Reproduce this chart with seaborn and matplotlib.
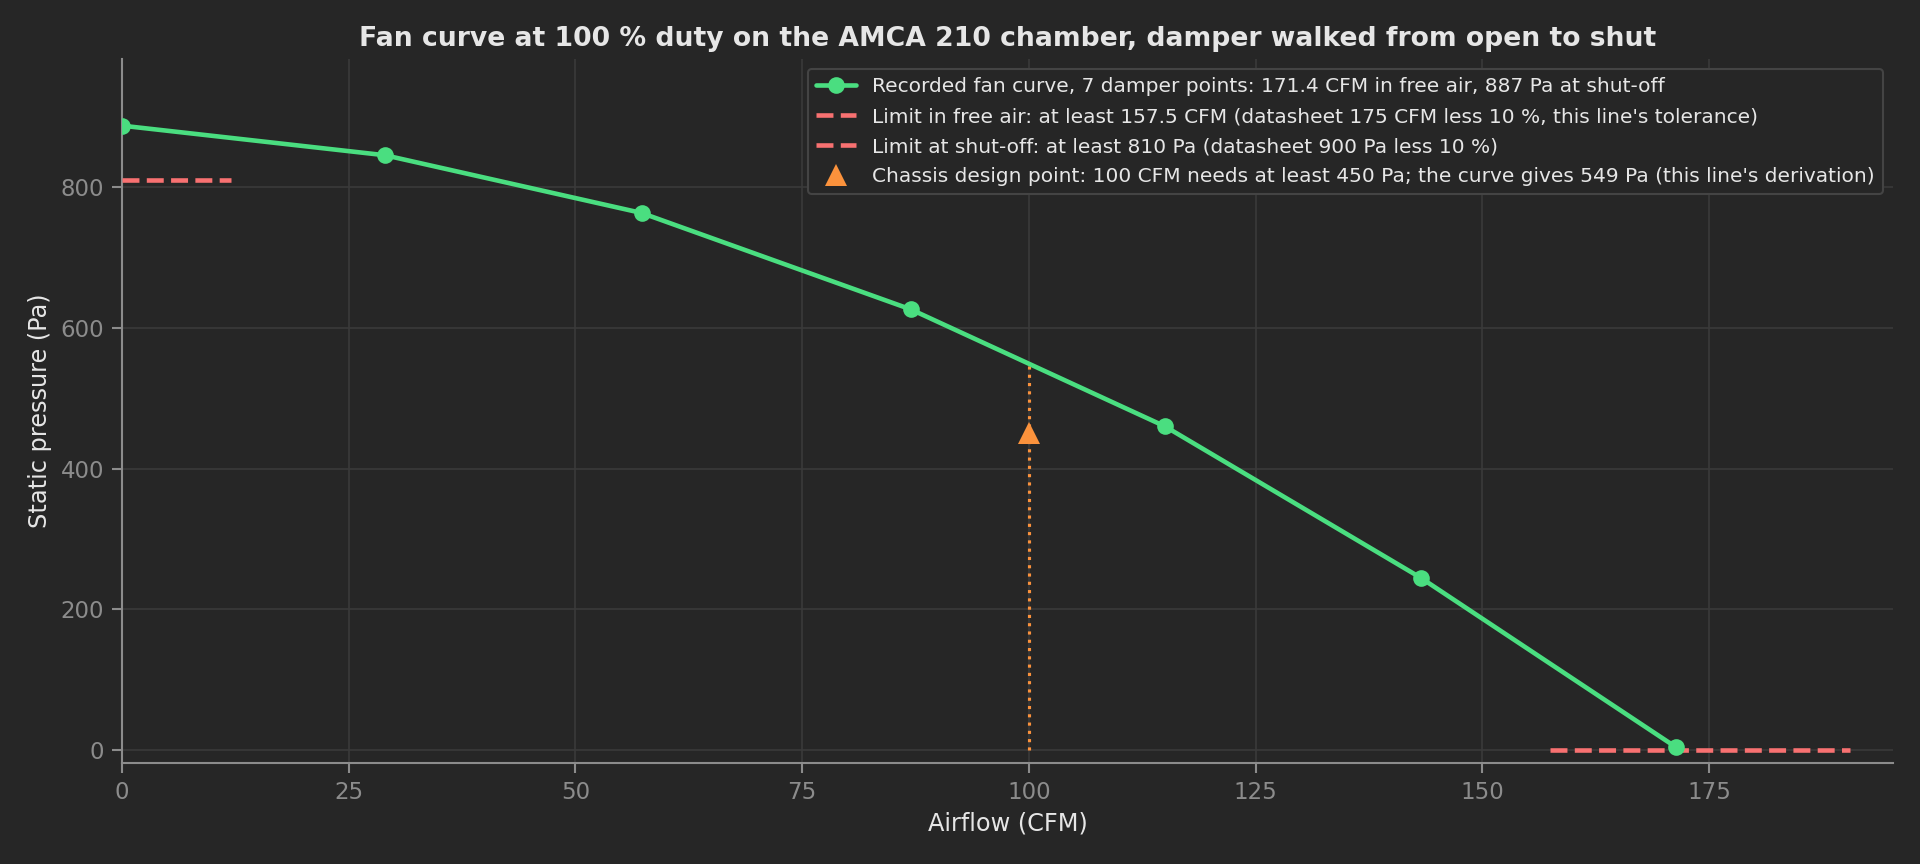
import matplotlib
matplotlib.use("Agg")
import matplotlib.pyplot as plt
import seaborn as sns
import pandas as pd

# Damper walk, open to shut
airflow_cfm = [0.0, 29.0, 57.3, 87.0, 115.0, 143.2, 171.4]
pressure_pa = [887, 845, 763, 626, 460, 245, 4]

# limit segments
free_air_x = [157.5, 190.5]
free_air_y = [0, 0]
shutoff_x = [0.0, 12.0]
shutoff_y = [810, 810]

# design point
design_x = 100
design_y = 450
curve_at_design = 549

bg = "#262626"
green = "#4ade80"
red = "#f87171"
orange = "#fb923c"

sns.set_theme(style="dark")
plt.rcParams.update({
    "figure.facecolor": bg,
    "axes.facecolor": bg,
    "axes.edgecolor": "#8c8c8c",
    "axes.labelcolor": "#e6e6e6",
    "text.color": "#e6e6e6",
    "xtick.color": "#8c8c8c",
    "ytick.color": "#8c8c8c",
    "xtick.bottom": True,
    "ytick.left": True,
})
plt.rcParams["font.family"] = ["DejaVu Sans"]

df = pd.DataFrame({"Airflow": airflow_cfm, "Pressure": pressure_pa})

fig, ax = plt.subplots(figsize=(12.8, 5.76), dpi=150)
fig.subplots_adjust(left=0.0635, right=0.986, top=0.932, bottom=0.117)

ax.grid(True, color="#3a3a3a", linewidth=0.8)
ax.set_axisbelow(True)

sns.lineplot(data=df, x="Airflow", y="Pressure", ax=ax, color=green, linewidth=2.2,
             marker="o", markersize=8, markeredgewidth=0,
             label="Recorded fan curve, 7 damper points: 171.4 CFM in free air, 887 Pa at shut-off",
             zorder=4)
ax.plot(free_air_x, free_air_y, color=red, linestyle="--", linewidth=2.2, zorder=3,
        label="Limit in free air: at least 157.5 CFM (datasheet 175 CFM less 10 %, this line's tolerance)")
ax.plot(shutoff_x, shutoff_y, color=red, linestyle="--", linewidth=2.2, zorder=3,
        label="Limit at shut-off: at least 810 Pa (datasheet 900 Pa less 10 %)")
ax.vlines(design_x, 0, curve_at_design, color=orange, linestyle=":", linewidth=1.5, zorder=3)
ax.plot([design_x], [design_y], linestyle="none", marker="^", markersize=11, color=orange,
        markeredgewidth=0, zorder=5,
        label="Chassis design point: 100 CFM needs at least 450 Pa; the curve gives 549 Pa (this line's derivation)")

ax.set_xlim(0, 195.3)
ax.set_ylim(-18, 982)
ax.set_xticks([0, 25, 50, 75, 100, 125, 150, 175])
ax.set_yticks([0, 200, 400, 600, 800])
ax.tick_params(labelsize=11, length=5, width=1)
for side in ["top", "right"]:
    ax.spines[side].set_visible(False)
for side in ["left", "bottom"]:
    ax.spines[side].set_linewidth(1.0)

ax.set_xlabel("Airflow (CFM)", fontsize=11.5)
ax.set_ylabel("Static pressure (Pa)", fontsize=11.5)
ax.set_title("Fan curve at 100 % duty on the AMCA 210 chamber, damper walked from open to shut",
             fontsize=12.8, fontweight="bold", color="#e6e6e6", pad=6)

leg = ax.legend(loc="upper right", fontsize=9.7, frameon=True, facecolor=bg,
                edgecolor="#444444", framealpha=1.0, borderaxespad=0.5,
                labelspacing=0.55)
for t in leg.get_texts():
    t.set_color("#e6e6e6")

fig.savefig("out.png", dpi=150, facecolor=bg)
